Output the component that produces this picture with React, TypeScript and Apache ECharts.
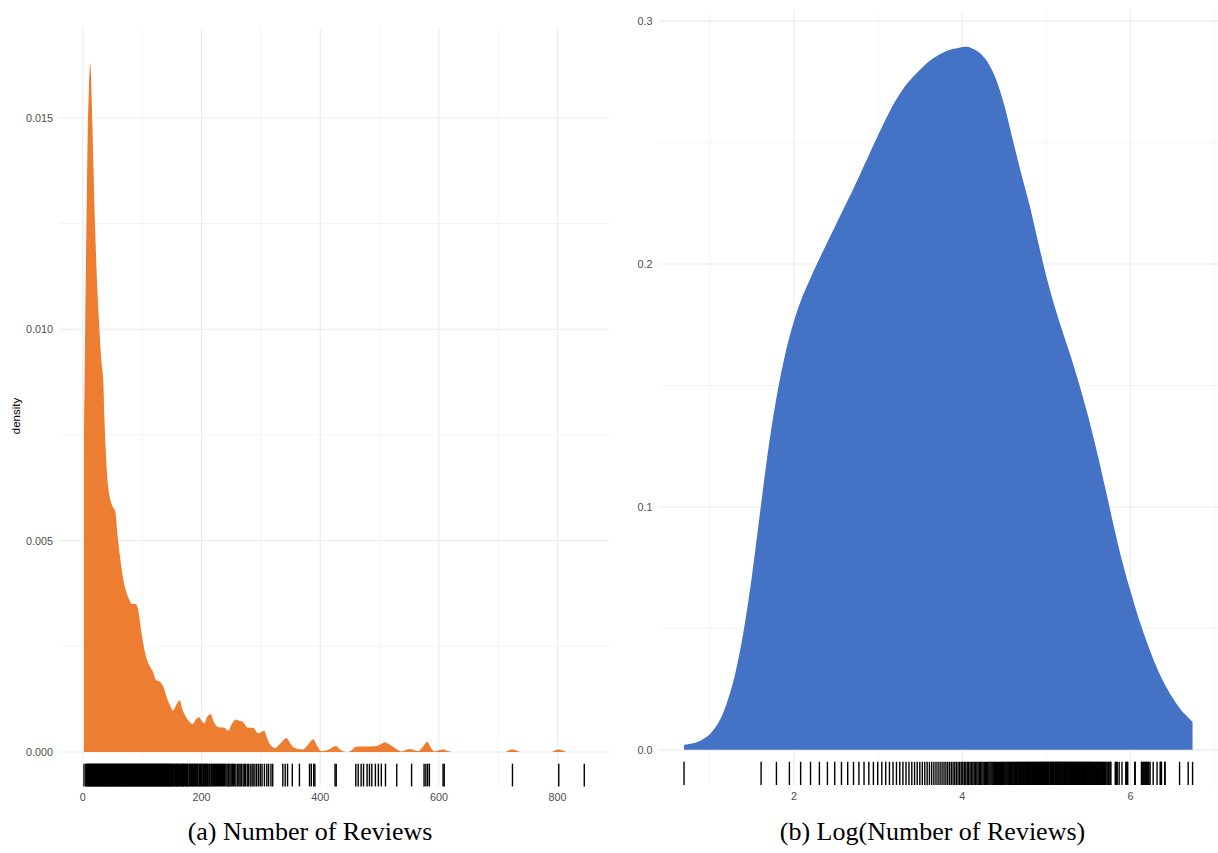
import { useEffect, useRef } from "react";
import * as echarts from "echarts";

// Number of reviews per listing (rug marks)
const reviewCounts = [
  2,
  5, 6, 7, 8, 9, 10, 11, 12, 13, 14, 15, 16, 17, 18, 19, 20,
  21, 22, 23, 24, 25, 26, 27, 28, 29, 30, 31, 32, 33, 34, 35, 36, 37, 38, 39, 40,
  41, 42, 43, 44, 45, 46, 47, 48, 49, 50, 51, 52, 53, 54, 55, 56, 57, 58, 59, 60,
  61, 62, 63, 64, 65, 66, 67, 68, 69, 70, 71, 72, 73, 74, 75, 76, 77, 78, 79, 80,
  81, 82, 83, 84, 85, 86, 87, 88, 89, 90, 91, 92, 93, 94, 95, 96, 97, 98, 99, 100,
  101, 102, 103, 104, 105, 106, 107, 108, 109, 110, 111, 112, 113, 114, 115, 116,
  117, 118, 119, 120, 121, 122, 123, 124, 125, 126,
  127, 128, 129, 130, 131, 132, 133, 134, 135, 136, 137, 138, 139, 140, 141, 142,
  143, 144, 145, 146, 147, 148, 149, 150, 151, 152, 153, 155, 156, 157, 158, 159,
  160, 161, 162, 163, 165, 166, 167, 168, 169, 170, 171, 173, 174, 175, 176, 177,
  179, 180, 181, 183, 184, 185, 186, 188, 189, 190, 192, 193, 194, 196, 197, 198,
  200, 201, 203, 204, 205, 207, 208, 210, 211, 213, 214, 216, 217, 219, 220, 222,
  224, 225, 227, 229, 230, 232, 234, 235, 237, 239, 241, 243, 245, 246, 248, 250,
  252, 254, 256, 258, 261, 263, 265, 267, 270, 272, 274, 277, 279, 282, 285, 287,
  290, 293, 296, 299, 302, 306, 310, 313, 317, 320,
  337, 341, 345, 353, 365, 382, 385, 389, 391, 425, 427, 460, 464, 469, 473, 479,
  483, 487, 493, 498, 503, 510, 529, 554, 575, 578, 581, 584, 607, 609, 724, 802, 845,
];

// Kernel density of the raw counts: [reviews, density]
const rawDensity: [number, number][] = [
  [2, 0.0075], [3, 0.0088], [4, 0.0101], [5.5, 0.0118], [7, 0.0134], [8.5, 0.0148],
  [10.5, 0.0158], [12.4, 0.0163], [14, 0.0159], [16, 0.0149], [18, 0.0138],
  [20.5, 0.0125], [24, 0.0111], [28, 0.01], [31, 0.0093], [34.4, 0.0088],
  [36.1, 0.008], [38.4, 0.0072], [41.7, 0.0064], [45.7, 0.006], [50.2, 0.0058],
  [54.6, 0.0057], [58, 0.0052], [63.7, 0.0045], [70.9, 0.0039], [79.4, 0.00356],
  [84, 0.0035], [89, 0.0035], [93.4, 0.00336], [99, 0.0028], [106.3, 0.00226],
  [113, 0.00202], [118, 0.0019], [123.2, 0.0017], [129.9, 0.00166], [135.5, 0.00155],
  [141.2, 0.0013], [147, 0.0011], [152.3, 0.00098], [157, 0.0011], [163, 0.00122],
  [168, 0.001], [173, 0.00085], [178, 0.00074], [185, 0.00066], [190, 0.00076],
  [196, 0.00082], [200, 0.00074], [204.5, 0.00068], [210, 0.00084], [215, 0.0009],
  [220, 0.00074], [226, 0.0006], [232, 0.00058], [237, 0.00058], [245, 0.0005],
  [251, 0.00066], [258, 0.00077], [264, 0.00074], [270, 0.00071], [277, 0.00058],
  [283, 0.00057], [288, 0.00056], [296, 0.00044], [305, 0.0005], [310, 0.00035],
  [315, 0.00019], [323.7, 0.00009], [333, 0.0002], [343, 0.00033], [349, 0.00022],
  [355, 0.00011], [363, 0.00007], [371, 0.00006], [380, 0.00018], [388, 0.0003],
  [395, 0.00014], [402, 0.00002], [414, 0.00005], [426, 0.00014], [435, 0.00004],
  [444, 0], [452, 0.00003], [460, 0.00012], [470, 0.00013], [480, 0.00013],
  [495, 0.00014], [502, 0.00018], [509, 0.00023], [516, 0.00018], [523, 0.00012],
  [530, 0.00005], [537, 0.00001], [545, 0.00005], [552, 0.00007], [559, 0.00004],
  [565, 0.00002], [573, 0.00012], [580, 0.00024], [587, 0.00009], [593, 0.00001],
  [600, 0.00004], [608, 0.00006], [615, 0.00002], [622, 0], [700, 0], [712, 0],
  [718, 0.00004], [724, 0.00006], [730, 0.00004], [737, 0], [790, 0], [796, 0.00004],
  [802, 0.00006], [808, 0.00004], [815, 0], [845, 0],
];

// Kernel density of log(reviews): [log reviews, density]
const logDensity: [number, number][] = [
  [0.693, 0.002], [0.8, 0.0027], [0.9, 0.004], [1.0, 0.0064], [1.1, 0.011],
  [1.2, 0.019], [1.3, 0.031], [1.4, 0.0485], [1.5, 0.0715], [1.6, 0.0985],
  [1.7, 0.125], [1.8, 0.1465], [1.9, 0.1635], [2.0, 0.1765], [2.1, 0.1865],
  [2.2, 0.1945], [2.3, 0.202], [2.4, 0.2092], [2.5, 0.2163], [2.6, 0.2235],
  [2.7, 0.2305], [2.8, 0.238], [2.9, 0.2455], [3.0, 0.253], [3.1, 0.2602],
  [3.2, 0.2668], [3.3, 0.2722], [3.4, 0.2765], [3.5, 0.28], [3.6, 0.2833],
  [3.7, 0.2857], [3.8, 0.2875], [3.9, 0.2886], [4.0, 0.2894], [4.05, 0.2895],
  [4.1, 0.2891], [4.2, 0.2872], [4.3, 0.2833], [4.4, 0.2763], [4.5, 0.2655],
  [4.6, 0.2514], [4.7, 0.2375], [4.8, 0.2245], [4.9, 0.2095], [5.0, 0.195],
  [5.1, 0.1825], [5.2, 0.1715], [5.3, 0.161], [5.4, 0.1495], [5.5, 0.137],
  [5.6, 0.123], [5.7, 0.108], [5.8, 0.0925], [5.9, 0.078], [6.0, 0.0655],
  [6.1, 0.054], [6.2, 0.044], [6.3, 0.035], [6.4, 0.0275], [6.5, 0.0215],
  [6.6, 0.0165], [6.739, 0.0115],
];

// Axis breaks
const rawXTicks = [0, 200, 400, 600, 800];
const rawXMinor = [100, 300, 500, 700];
const rawYTicks = [0, 0.005, 0.01, 0.015];
const rawYMinor = [0.0025, 0.0075, 0.0125];
const logXTicks = [2, 4, 6];
const logXMinor = [1, 3, 5, 7];
const logYTicks = [0, 0.1, 0.2, 0.3];
const logYMinor = [0.05, 0.15, 0.25];

const captions = ["(a) Number of Reviews", "(b) Log(Number of Reviews)"];
const yTitle = "density";

const ORANGE = "#ED7D31";
const BLUE = "#4472C4";
const GRID_COLOR = "#EBEBEB";
const LABEL_COLOR = "#4D4D4D";
const SANS = '"Liberation Sans", Arial, Helvetica, sans-serif';
const SERIF = '"Liberation Serif", "Times New Roman", serif';

// ggplot-style 5% expansion of a data range
function expand(lo: number, hi: number): [number, number] {
  const pad = (hi - lo) * 0.05;
  return [lo - pad, hi + pad];
}

function gridLines(idx: number, xMaj: number[], xMin: number[], yMaj: number[], yMin: number[], x0: number) {
  const data = [
    ...xMaj.map((v) => [v, 0, 1]),
    ...xMin.map((v) => [v, 0, 0]),
    ...yMaj.map((v) => [x0, v, 3]),
    ...yMin.map((v) => [x0, v, 2]),
  ];
  return {
    type: "custom",
    xAxisIndex: idx,
    yAxisIndex: idx,
    z: 1,
    silent: true,
    data,
    renderItem: (params: any, api: any) => {
      const cs = params.coordSys;
      const kind = api.value(2);
      const p = api.coord([api.value(0), api.value(1)]);
      const width = kind % 2 === 1 ? 1.1 : 0.55;
      const shape =
        kind < 2
          ? { x1: p[0], y1: cs.y, x2: p[0], y2: cs.y + cs.height }
          : { x1: cs.x, y1: p[1], x2: cs.x + cs.width, y2: p[1] };
      return { type: "line", shape, style: { stroke: GRID_COLOR, lineWidth: width } };
    },
  };
}

function rug(idx: number, values: number[], yBase: number) {
  return {
    type: "custom",
    xAxisIndex: idx,
    yAxisIndex: idx,
    z: 3,
    silent: true,
    data: values.map((v) => [v, yBase]),
    renderItem: (params: any, api: any) => {
      const cs = params.coordSys;
      const p = api.coord([api.value(0), api.value(1)]);
      const bottom = cs.y + cs.height;
      const len = cs.height * 0.03;
      return {
        type: "line",
        shape: { x1: p[0], y1: bottom, x2: p[0], y2: bottom - len },
        style: { stroke: "#000", lineWidth: 1.4 },
      };
    },
  };
}

function valueAxis(idx: number, range: [number, number], ticks: number[], fmt: (v: number) => string, isY: boolean) {
  return {
    type: "value",
    gridIndex: idx,
    min: range[0],
    max: range[1],
    axisLine: { show: false },
    axisTick: { show: false },
    splitLine: { show: false },
    axisLabel: {
      customValues: ticks,
      formatter: fmt,
      color: LABEL_COLOR,
      fontSize: 10.8,
      fontFamily: SANS,
      margin: isY ? 6 : 5,
    },
  };
}

export default function App() {
  const ref = useRef<HTMLDivElement>(null);

  useEffect(() => {
    if (!ref.current) return;
    const chart = echarts.init(ref.current, undefined, { renderer: "svg" });

    const rawX = expand(Math.min(...reviewCounts), Math.max(...reviewCounts));
    const rawY = expand(0, Math.max(...rawDensity.map((d) => d[1])));
    const logs = reviewCounts.map((v) => Math.log(v));
    const logX = expand(Math.min(...logs), Math.max(...logs));
    const logY = expand(0, Math.max(...logDensity.map((d) => d[1])));

    chart.setOption({
      animation: false,
      backgroundColor: "#fff",
      grid: [
        { left: 59, top: 28.4, width: 550.3, height: 758 },
        { left: 658.6, top: 11.5, width: 560.9, height: 773.5 },
      ],
      xAxis: [
        valueAxis(0, rawX, rawXTicks, (v) => String(v), false),
        valueAxis(1, logX, logXTicks, (v) => String(v), false),
      ],
      yAxis: [
        valueAxis(0, rawY, rawYTicks, (v) => v.toFixed(3), true),
        valueAxis(1, logY, logYTicks, (v) => v.toFixed(1), true),
      ],
      series: [
        gridLines(0, rawXTicks, rawXMinor, rawYTicks, rawYMinor, rawX[0]),
        gridLines(1, logXTicks, logXMinor, logYTicks, logYMinor, logX[0]),
        {
          type: "line",
          xAxisIndex: 0,
          yAxisIndex: 0,
          z: 2,
          silent: true,
          data: rawDensity,
          showSymbol: false,
          smooth: 0.3,
          lineStyle: { width: 0, opacity: 0 },
          areaStyle: { color: ORANGE, opacity: 1 },
        },
        {
          type: "line",
          xAxisIndex: 1,
          yAxisIndex: 1,
          z: 2,
          silent: true,
          data: logDensity,
          showSymbol: false,
          smooth: 0.3,
          lineStyle: { width: 0, opacity: 0 },
          areaStyle: { color: BLUE, opacity: 1 },
        },
        rug(0, reviewCounts, rawY[0]),
        rug(1, logs, logY[0]),
      ],
      graphic: [
        {
          type: "text",
          x: 16,
          y: 416,
          rotation: Math.PI / 2,
          style: {
            text: yTitle,
            fill: "#000",
            fontSize: 11.5,
            fontFamily: SANS,
            textAlign: "center",
            textVerticalAlign: "middle",
          },
        },
        {
          type: "text",
          x: 310,
          y: 831,
          style: {
            text: captions[0],
            fill: "#000",
            fontSize: 26,
            fontFamily: SERIF,
            textAlign: "center",
            textVerticalAlign: "middle",
          },
        },
        {
          type: "text",
          x: 932.5,
          y: 831,
          style: {
            text: captions[1],
            fill: "#000",
            fontSize: 26,
            fontFamily: SERIF,
            textAlign: "center",
            textVerticalAlign: "middle",
          },
        },
      ],
    });

    return () => chart.dispose();
  }, []);

  return (
    <div
      ref={ref}
      style={{ position: "fixed", left: 0, top: 0, width: 1218, height: 853, background: "#fff" }}
    />
  );
}
